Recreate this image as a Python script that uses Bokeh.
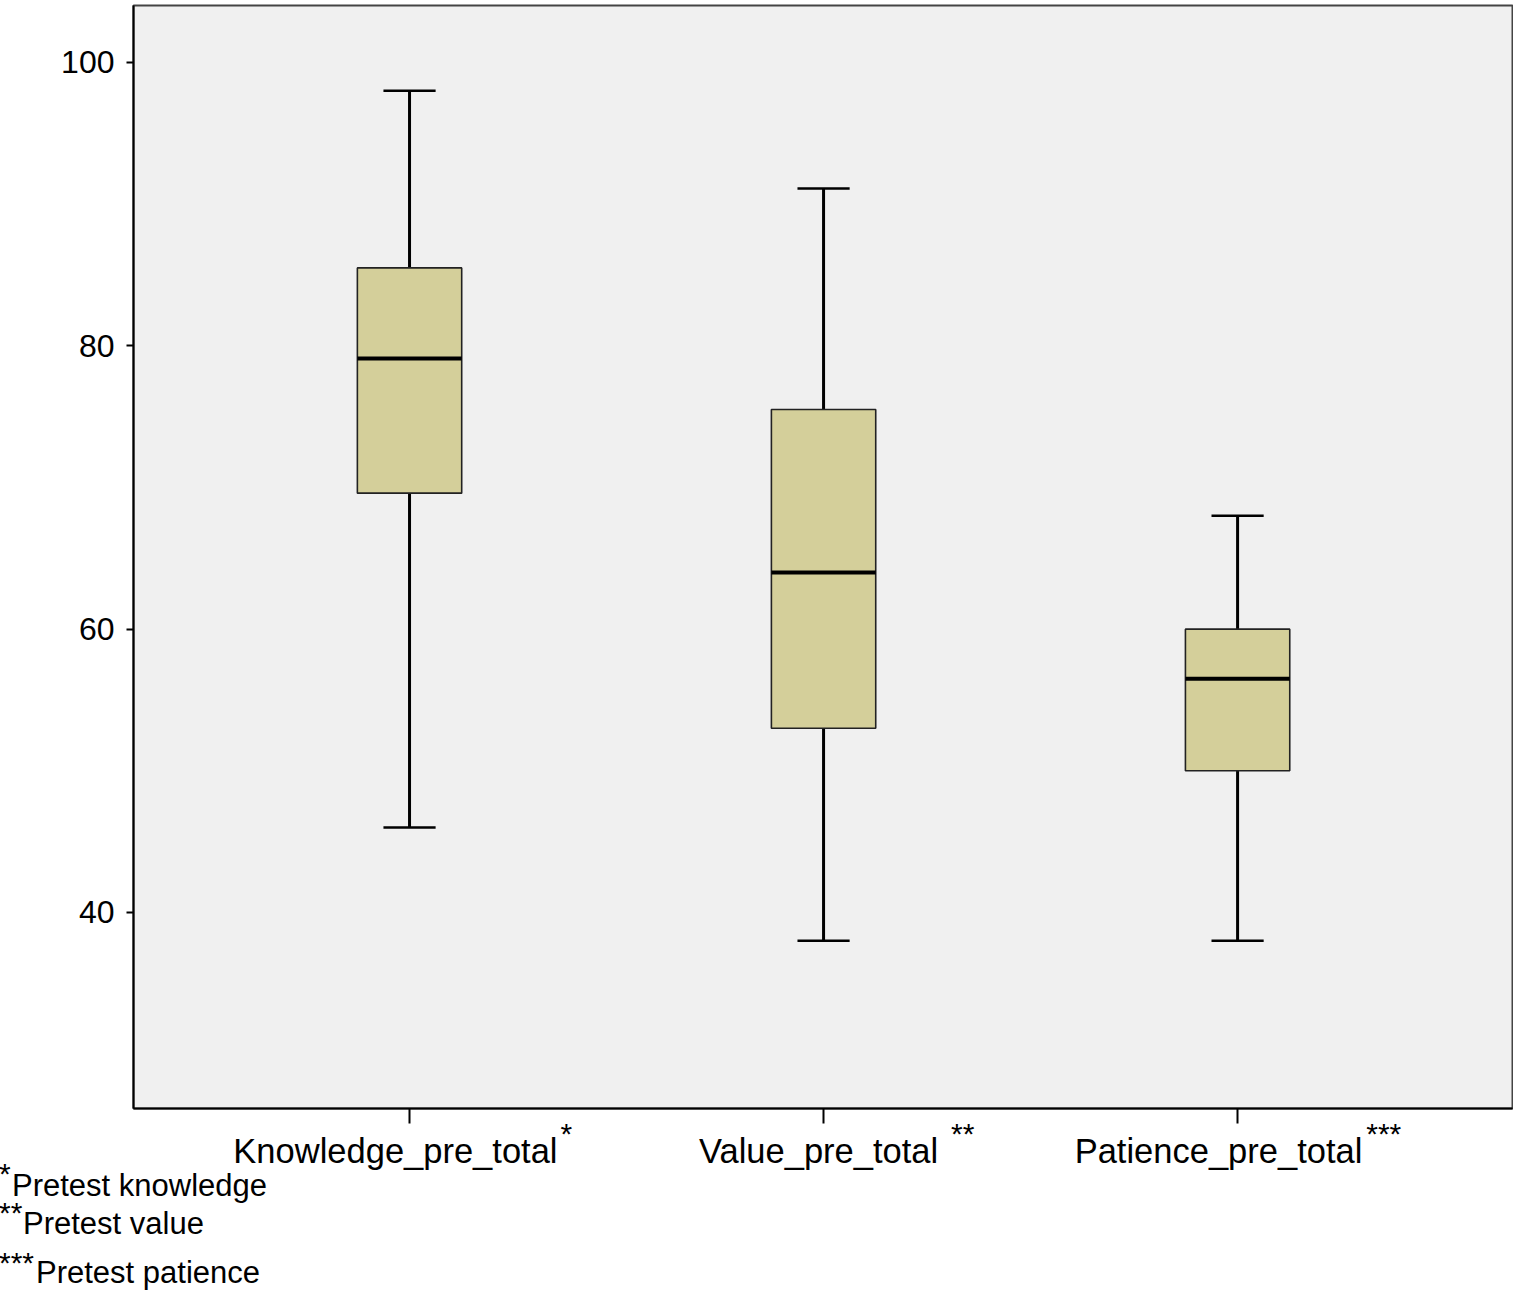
from bokeh.plotting import figure
from bokeh.models import FixedTicker, Range1d, ColumnDataSource, LinearAxis, Div
from bokeh.layouts import column
from bokeh.embed import file_html
from bokeh.resources import INLINE

# ---- data ----
categories = ["Knowledge_pre_total", "Value_pre_total", "Patience_pre_total"]
markers = ["*", "**", "***"]
footnotes = ["Pretest knowledge", "Pretest value", "Pretest patience"]
whisker_low = [46.0, 38.0, 38.0]
q1 = [69.6, 53.0, 50.0]
median = [79.1, 64.0, 56.5]
q3 = [85.5, 75.5, 60.0]
whisker_high = [98.0, 91.1, 68.0]
y_ticks = [40, 60, 80, 100]

FONT = "Liberation Sans"
BOX_W = 0.252
CAP_W = 0.126

xs = list(range(len(categories)))
src = ColumnDataSource(dict(
    x=xs,
    x0=[x - BOX_W / 2 for x in xs],
    x1=[x + BOX_W / 2 for x in xs],
    c0=[x - CAP_W / 2 for x in xs],
    c1=[x + CAP_W / 2 for x in xs],
    lo=whisker_low, q1=q1, med=median, q3=q3, hi=whisker_high,
))

X0, X1 = -0.6667, 2.664
Y0, Y1 = 26.165, 104.02

p = figure(width=1513, height=1174, output_backend="svg", toolbar_location=None,
           x_range=Range1d(X0, X1), y_range=Range1d(Y0, Y1),
           min_border_left=133, min_border_right=1, min_border_top=5,
           min_border_bottom=66)
p.background_fill_color = "#f0f0f0"
p.border_fill_color = "white"
p.outline_line_color = "#444444"
p.outline_line_width = 2
p.grid.visible = False

# whiskers
p.segment(x0="x", x1="x", y0="lo", y1="q1", source=src, line_color="black", line_width=3)
p.segment(x0="x", x1="x", y0="q3", y1="hi", source=src, line_color="black", line_width=3)
p.segment(x0="c0", x1="c1", y0="lo", y1="lo", source=src, line_color="black", line_width=2.5)
p.segment(x0="c0", x1="c1", y0="hi", y1="hi", source=src, line_color="black", line_width=2.5)
# boxes
p.vbar(x="x", width=BOX_W, bottom="q1", top="q3", source=src,
       fill_color="#d4cf9a", line_color="#222222", line_width=1.6)
p.segment(x0="x0", x1="x1", y0="med", y1="med", source=src, line_color="black", line_width=4)

# y axis
p.yaxis.ticker = FixedTicker(ticks=y_ticks)
yax = p.yaxis[0]
yax.axis_line_color = "black"
yax.axis_line_width = 2
yax.major_tick_line_color = "black"
yax.major_tick_line_width = 2
yax.minor_tick_line_color = None
yax.major_tick_in = 0
yax.major_tick_out = 7
yax.major_label_standoff = 12
yax.major_label_text_font = FONT
yax.major_label_text_font_size = "32px"
yax.major_label_text_color = "black"

# x axis 1: line and tick marks only
xax = p.xaxis[0]
xax.ticker = FixedTicker(ticks=xs)
xax.major_label_overrides = {i: "" for i in xs}
xax.major_label_text_font_size = "0px"
xax.major_label_standoff = 0
xax.axis_line_color = "black"
xax.axis_line_width = 2
xax.major_tick_line_color = "black"
xax.major_tick_line_width = 2
xax.minor_tick_line_color = None
xax.major_tick_in = 0
xax.major_tick_out = 15

# x axis 2: superscript markers after the category names
marker_offsets = [0.379, 0.336, 0.353]
marker_pos = [i + o for i, o in zip(xs, marker_offsets)]
sax = LinearAxis(ticker=FixedTicker(ticks=marker_pos),
                 major_label_overrides={v: m for v, m in zip(marker_pos, markers)})
sax.axis_line_color = None
sax.major_tick_line_color = None
sax.minor_tick_line_color = None
sax.major_tick_in = 0
sax.major_tick_out = 0
sax.major_label_standoff = -7
sax.major_label_text_font = FONT
sax.major_label_text_font_size = "30px"
sax.major_label_text_color = "black"
p.add_layout(sax, "below")

# x axis 3: category names (centred slightly left of the tick, as in the original)
label_offsets = [-0.034, -0.012, -0.046]
label_pos = [i + o for i, o in zip(xs, label_offsets)]
cax = LinearAxis(ticker=FixedTicker(ticks=label_pos),
                 major_label_overrides={v: c for v, c in zip(label_pos, categories)})
cax.axis_line_color = None
cax.major_tick_line_color = None
cax.minor_tick_line_color = None
cax.major_tick_in = 0
cax.major_tick_out = 0
cax.major_label_standoff = -21
cax.major_label_text_font = FONT
cax.major_label_text_font_size = "34.5px"
cax.major_label_text_color = "black"
p.add_layout(cax, "below")

# footnotes below the chart
DIV_TOP = 1114
DIV_H = 176
marker_top = [1167, 1206, 1256]     # line-height 14px boxes
text_top = [1174, 1212, 1261]       # line-height 24px boxes
text_left = [7, 18, 31]
spans = []
for m, t, mt, tt, tl in zip(markers, footnotes, marker_top, text_top, text_left):
    spans.append(f'<span style="position:absolute;left:-6px;top:{mt - DIV_TOP}px;'
                 f'font-size:30px;line-height:14px;white-space:nowrap">{m}</span>')
    spans.append(f'<span style="position:absolute;left:{tl}px;top:{tt - DIV_TOP}px;'
                 f'font-size:31px;line-height:24px;white-space:nowrap">{t}</span>')
html = (f'<div style="position:relative;width:600px;height:{DIV_H}px;'
        f"font-family:'{FONT}',Arial,sans-serif;color:black\">" + "".join(spans) + "</div>")
notes = Div(text=html, width=600, height=DIV_H,
            styles={"margin-top": f"-{1174 - DIV_TOP}px"})

layout = column(p, notes, spacing=0)
open("out.html", "w").write(file_html(layout, INLINE))
